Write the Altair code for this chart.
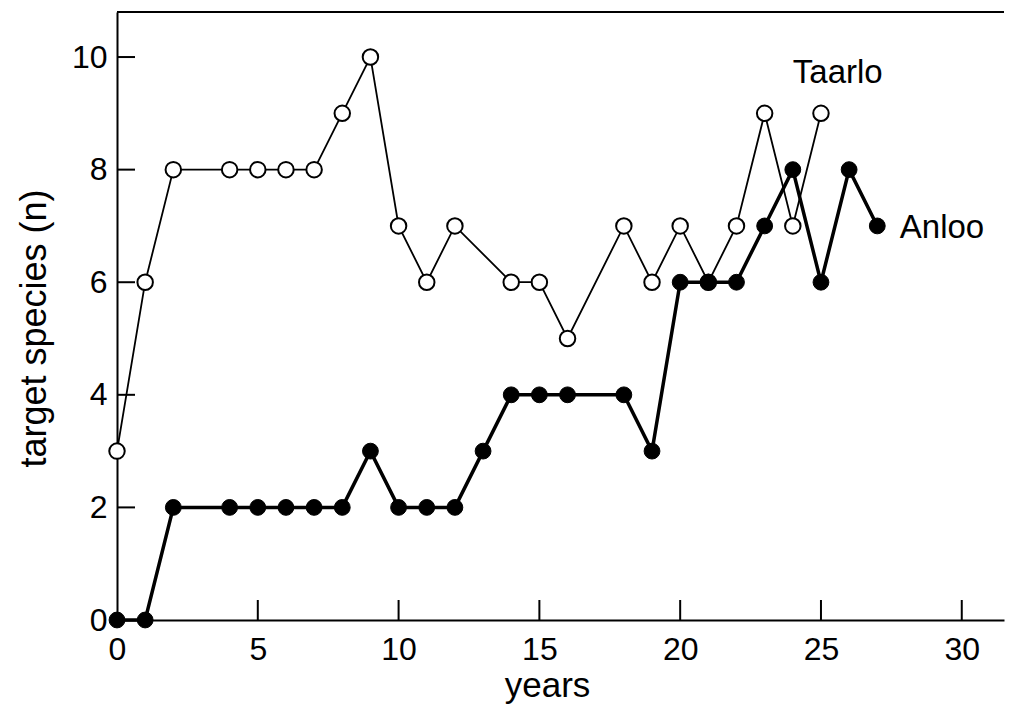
import altair as alt
import pandas as pd

# Data
taarlo_years = [0, 1, 2, 4, 5, 6, 7, 8, 9, 10, 11, 12, 14, 15, 16, 18, 19, 20, 21, 22, 23, 24, 25]
taarlo_n = [3, 6, 8, 8, 8, 8, 8, 9, 10, 7, 6, 7, 6, 6, 5, 7, 6, 7, 6, 7, 9, 7, 9]

anloo_years = [0, 1, 2, 4, 5, 6, 7, 8, 9, 10, 11, 12, 13, 14, 15, 16, 18, 19, 20, 21, 22, 23, 24, 25, 26, 27]
anloo_n = [0, 0, 2, 2, 2, 2, 2, 2, 3, 2, 2, 2, 3, 4, 4, 4, 4, 3, 6, 6, 6, 7, 8, 6, 8, 7]

x_ticks = [0, 5, 10, 15, 20, 25, 30]
y_ticks = [0, 2, 4, 6, 8, 10]

label_names = ["Taarlo", "Anloo"]
label_x = [24.0, 27.8]
label_y = [9.72, 6.96]

W, H = 887, 608
X_MAX = 31.5
FONT = "Liberation Sans"

taarlo = pd.DataFrame({"years": taarlo_years, "n": taarlo_n})
anloo = pd.DataFrame({"years": anloo_years, "n": anloo_n})
labels = pd.DataFrame({"name": label_names, "x": label_x, "y": label_y})
xt = pd.DataFrame({"v": x_ticks[1:]})
yt = pd.DataFrame({"v": y_ticks})

xscale = alt.Scale(domain=[0, X_MAX], nice=False, zero=False)
yscale = alt.Scale(domain=[0, 10.8], nice=False, zero=False)

xaxis = alt.Axis(values=x_ticks, format="d", ticks=False, tickSize=0, grid=False,
                 labelPadding=14, labelFlush=False,
                 labelFontSize=32, labelFont=FONT, labelColor="black",
                 domainColor="black", domainWidth=2,
                 title="years", titleFontSize=35, titleFont=FONT, titleFontWeight="normal",
                 titleColor="black", titlePadding=3, titleX=430, titleAlign="center")
yaxis = alt.Axis(values=y_ticks, format="d", ticks=False, tickSize=0, grid=False,
                 labelPadding=10, labelFlush=False,
                 labelFontSize=32, labelFont=FONT, labelColor="black",
                 domainColor="black", domainWidth=2,
                 title="target species (n)", titleFontSize=36, titleFont=FONT,
                 titleFontWeight="normal", titleColor="black",
                 titleX=-72, titleY=316, titleBaseline="alphabetic", titleAlign="center",
                 titleAngle=270)

base_t = alt.Chart(taarlo)
base_a = alt.Chart(anloo)

t_line = base_t.mark_line(color="black", strokeWidth=1.8).encode(
    x=alt.X("years:Q", scale=xscale, axis=xaxis),
    y=alt.Y("n:Q", scale=yscale, axis=yaxis),
)
t_pts = base_t.mark_point(shape="circle", filled=True, fill="white", stroke="black",
                          strokeWidth=2, size=240, opacity=1).encode(
    x=alt.X("years:Q", scale=xscale),
    y=alt.Y("n:Q", scale=yscale),
)
a_line = base_a.mark_line(color="black", strokeWidth=3.5).encode(
    x=alt.X("years:Q", scale=xscale),
    y=alt.Y("n:Q", scale=yscale),
)
a_pts = base_a.mark_point(shape="circle", filled=True, fill="black", stroke="black",
                          strokeWidth=1, size=250, opacity=1).encode(
    x=alt.X("years:Q", scale=xscale),
    y=alt.Y("n:Q", scale=yscale),
)

txt = alt.Chart(labels).mark_text(align="left", baseline="middle", fontSize=33,
                                  font=FONT, color="black").encode(
    x=alt.X("x:Q", scale=xscale),
    y=alt.Y("y:Q", scale=yscale),
    text="name:N",
)

x_tick_marks = alt.Chart(xt).mark_rule(color="black", strokeWidth=2).encode(
    x=alt.X("v:Q", scale=xscale),
    y=alt.value(H),
    y2=alt.value(H - 20),
)
y_tick_marks = alt.Chart(yt).mark_rule(color="black", strokeWidth=2).encode(
    y=alt.Y("v:Q", scale=yscale),
    x=alt.value(0),
    x2=alt.value(18),
)
top_line = alt.Chart(yt).mark_rule(color="black", strokeWidth=2).encode(
    x=alt.value(0),
    x2=alt.value(W),
    y=alt.value(0),
)

chart = alt.layer(
    t_line, a_line, t_pts, a_pts, txt, x_tick_marks, y_tick_marks, top_line
).properties(
    width=W,
    height=H,
    autosize=alt.AutoSizeParams(type="none"),
    padding={"left": 109, "top": 4, "right": 1, "bottom": 85},
    background="white",
).configure_view(stroke=None)

chart.save("out.html", embed_options={"renderer": "svg", "actions": False})
